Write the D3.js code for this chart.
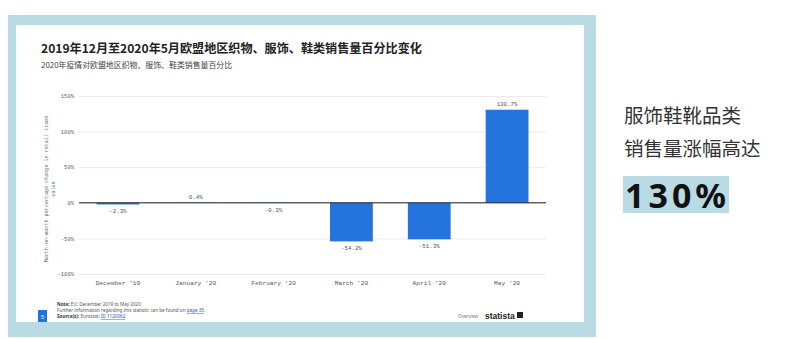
<!DOCTYPE html>
<html>
<head>
<meta charset="utf-8">
<script src="https://cdn.jsdelivr.net/npm/d3@7"></script>
<style>
  body { margin: 0; background: #fff; }
  svg { display: block; }
</style>
</head>
<body>
<svg id="chart" width="801" height="339"></svg>
<script>
// data
const categories = ["December '19", "January '20", "February '20", "March '20", "April '20", "May '20"];
const values = [-2.3, 0.4, -0.3, -54.2, -51.3, 130.7];
const valueLabels = ["-2.3%", "0.4%", "-0.3%", "-54.2%", "-51.3%", "130.7%"];
const yTicks = [-100, -50, 0, 50, 100, 150];

const TITLE = "2019年12月至2020年5月欧盟地区织物、服饰、鞋类销售量百分比变化";
const SUBTITLE = "2020年疫情对欧盟地区织物、服饰、鞋类销售量百分比";
const SIDE_LINES = ["服饰鞋靴品类", "销售量涨幅高达"];
const SIDE_BIG = "130%";

const BAR = "#2573dd";
const FRAME = "#b9dce4";
const MONO = "'Liberation Mono', 'DejaVu Sans Mono', monospace";
const CJK = "'Noto Sans CJK SC', 'Noto Sans', sans-serif";

const svg = d3.select("#chart");

// slide frame
svg.append("rect").attr("x", 8).attr("y", 15).attr("width", 588).attr("height", 322).attr("fill", FRAME);
svg.append("rect").attr("x", 16).attr("y", 25).attr("width", 568).attr("height", 297).attr("fill", "#fff");

// titles
svg.append("text").attr("x", 41).attr("y", 53)
    .attr("font-family", CJK).attr("font-weight", 700).attr("font-size", 12.1)
    .attr("fill", "#222").text(TITLE);
svg.append("text").attr("x", 41).attr("y", 68)
    .attr("font-family", CJK).attr("font-size", 7.9)
    .attr("fill", "#444").text(SUBTITLE);

// scales
const x = d3.scaleBand().domain(categories).range([79, 546]).paddingInner(0.45).paddingOuter(0.225);
const y = d3.scaleLinear().domain([-100, 150]).range([274, 96]);

// grid + y labels
const yAxis = svg.append("g").attr("transform", "translate(79,0)")
    .call(d3.axisLeft(y).tickValues(yTicks).tickSize(-467).tickFormat(d => d + "%"));
yAxis.select(".domain").remove();
yAxis.selectAll(".tick line").attr("stroke", "#e4e4e4").attr("stroke-width", 0.8);
yAxis.selectAll(".tick text").attr("x", -5).attr("font-family", MONO).attr("font-size", 5.5).attr("fill", "#666");

// y axis title
const yTitle = svg.append("text")
    .attr("transform", `translate(48,${189}) rotate(-90)`)
    .attr("text-anchor", "middle").attr("font-family", MONO).attr("font-size", 5.1).attr("fill", "#666");
yTitle.append("tspan").attr("x", 0).attr("dy", 0).text("Month-on-month percentage change in retail trade");
yTitle.append("tspan").attr("x", 0).attr("dy", 7).text("value");

// bars
svg.append("g").selectAll("rect").data(values).join("rect")
    .attr("x", (d, i) => x(categories[i]))
    .attr("width", x.bandwidth())
    .attr("y", d => y(Math.max(0, d)))
    .attr("height", d => Math.abs(y(d) - y(0)))
    .attr("fill", BAR);

// zero line
svg.append("line").attr("x1", 79).attr("x2", 546).attr("y1", y(0)).attr("y2", y(0))
    .attr("stroke", "#222").attr("stroke-width", 1);

// value labels
svg.append("g").selectAll("text").data(values).join("text")
    .attr("x", (d, i) => x(categories[i]) + x.bandwidth() / 2)
    .attr("y", d => d >= 0 ? y(d) - 4 : y(d) + 9)
    .attr("text-anchor", "middle").attr("font-family", MONO).attr("font-size", 5.8).attr("fill", "#555")
    .text((d, i) => valueLabels[i]);

// x labels
const xAxis = svg.append("g").attr("transform", "translate(0,276)")
    .call(d3.axisBottom(x).tickSize(0));
xAxis.select(".domain").remove();
xAxis.selectAll(".tick text").attr("dy", 6).attr("font-family", MONO).attr("font-size", 6.2).attr("fill", "#555");

// footer
const foot = svg.append("g").attr("font-family", "'Noto Sans', sans-serif").attr("font-size", 4.6).attr("fill", "#555");
const n1 = foot.append("text").attr("x", 57).attr("y", 306);
n1.append("tspan").attr("font-weight", 700).attr("fill", "#333").text("Note: ");
n1.append("tspan").text("EU; December 2019 to May 2020");
const n2 = foot.append("text").attr("x", 57).attr("y", 312);
n2.append("tspan").text("Further information regarding this statistic can be found on ");
n2.append("tspan").attr("fill", "#2255cc").attr("text-decoration", "underline").text("page 35");
n2.append("tspan").text(".");
const n3 = foot.append("text").attr("x", 57).attr("y", 318);
n3.append("tspan").attr("font-weight", 700).attr("fill", "#333").text("Source(s): ");
n3.append("tspan").text("Eurostat; ");
n3.append("tspan").attr("fill", "#2255cc").attr("text-decoration", "underline").text("ID 1120062");

svg.append("rect").attr("x", 38).attr("y", 310).attr("width", 9).attr("height", 12).attr("fill", "#1f74e0");
svg.append("text").attr("x", 42.5).attr("y", 318.5).attr("text-anchor", "middle")
    .attr("font-family", "'Noto Sans', sans-serif").attr("font-size", 5.5).attr("fill", "#fff").text("5");

svg.append("text").attr("x", 458).attr("y", 318)
    .attr("font-family", "'Noto Sans', sans-serif").attr("font-size", 4.6).attr("fill", "#777").text("Overview");
svg.append("text").attr("x", 485).attr("y", 318.5)
    .attr("font-family", "'Liberation Sans', sans-serif").attr("font-weight", 700).attr("font-size", 8.5)
    .attr("fill", "#222").text("statista");
svg.append("rect").attr("x", 517).attr("y", 312).attr("width", 6).attr("height", 6).attr("fill", "#222");

// right side call-out
svg.append("g").selectAll("text").data(SIDE_LINES).join("text")
    .attr("x", 624).attr("y", (d, i) => 123 + i * 33)
    .attr("font-family", CJK).attr("font-size", 19.5).attr("fill", "#333")
    .text(d => d);
svg.append("rect").attr("x", 623).attr("y", 176).attr("width", 106).attr("height", 37).attr("fill", FRAME);
svg.append("text").attr("x", 625).attr("y", 208)
    .attr("font-family", "'Noto Sans', sans-serif").attr("font-weight", 700).attr("font-size", 34)
    .attr("letter-spacing", 4).attr("fill", "#111").text(SIDE_BIG);
</script>
</body>
</html>
